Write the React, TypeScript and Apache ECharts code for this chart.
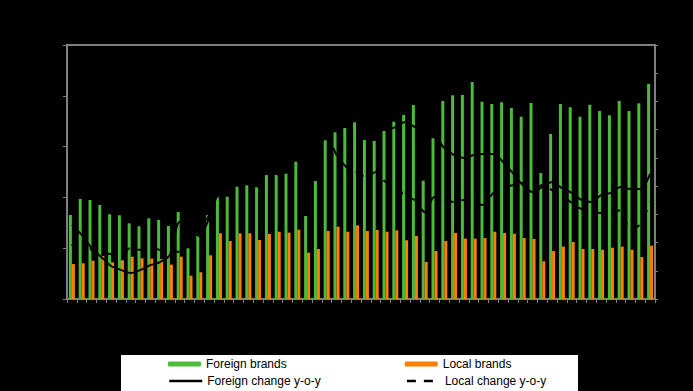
import React, { useEffect, useRef } from "react";
import * as echarts from "echarts";

const categories = [
  "Jan-09","Feb-09","Mar-09","Apr-09","May-09","Jun-09","Jul-09","Aug-09","Sep-09","Oct-09","Nov-09","Dec-09",
  "Jan-10","Feb-10","Mar-10","Apr-10","May-10","Jun-10","Jul-10","Aug-10","Sep-10","Oct-10","Nov-10","Dec-10",
  "Jan-11","Feb-11","Mar-11","Apr-11","May-11","Jun-11","Jul-11","Aug-11","Sep-11","Oct-11","Nov-11","Dec-11",
  "Jan-12","Feb-12","Mar-12","Apr-12","May-12","Jun-12","Jul-12","Aug-12","Sep-12","Oct-12","Nov-12","Dec-12",
  "Jan-13","Feb-13","Mar-13","Apr-13","May-13","Jun-13","Jul-13","Aug-13","Sep-13","Oct-13","Nov-13","Dec-13",
];

const foreignBrands = [
  82.7, 98.4, 97.4, 92.5, 83.4, 82.4, 74.5, 71.6, 79.4, 77.8,
  71.9, 85.6, 49.9, 65.0, 82.7, 100.1, 100.7, 110.5, 111.9, 109.9,
  122.0, 122.0, 123.3, 135.1, 81.7, 116.1, 156.2, 164.1, 168.3, 173.9,
  156.5, 155.5, 167.3, 174.5, 181.1, 190.9, 116.4, 158.2, 194.9, 200.5,
  200.8, 213.6, 194.2, 191.9, 193.6, 188.0, 179.4, 192.9, 124.0, 162.4,
  191.9, 188.7, 179.4, 191.2, 185.0, 180.8, 194.9, 185.0, 192.6, 211.6,
];

const localBrands = [
  34.4, 35.1, 37.7, 42.3, 36.1, 38.1, 41.6, 40.1, 39.7, 39.4,
  33.8, 41.6, 22.9, 26.3, 43.0, 64.7, 57.1, 64.7, 64.7, 58.1,
  64.0, 66.2, 65.3, 68.2, 45.6, 49.2, 66.9, 71.2, 66.2, 72.5,
  66.9, 67.9, 66.2, 67.6, 57.8, 62.0, 36.4, 47.2, 57.1, 65.0,
  59.4, 59.4, 60.0, 66.2, 65.0, 64.3, 60.0, 59.1, 37.1, 47.2,
  51.5, 56.1, 49.2, 49.2, 48.5, 50.5, 51.5, 48.5, 41.3, 52.5,
];

const foreignChange = [
  -13.8, -17.3, -21.9, -25.1, -28.3, -29.7, -30.8, -29.7, -28.0, -26.9,
  -24.4, -12.7, -14.8, -17.7, -11.3, -2.1, 0.0, 2.2, 3.6, 5.0,
  7.1, 9.3, 11.0, 12.8, 12.8, 14.2, 18.1, 21.7, 23.4, 24.1,
  22.0, 20.6, 19.9, 20.9, 22.7, 20.9, 19.2, 17.8, 13.5, 11.0,
  10.0, 11.0, 11.4, 11.4, 8.5, 4.6, 0.4, -2.1, -0.3, 1.5,
  -0.7, -2.4, -4.9, -5.6, -3.2, -2.4, -0.3, -1.0, -1.0, 4.3,
];

const localChange = [
  -21.2, -16.6, -22.6, -23.3, -24.1, -24.1, -21.9, -22.6, -21.9, -22.6,
  -23.3, -23.3, -19.1, -16.6, -10.2, -2.1, -1.4, 1.5, 2.9, 3.9,
  6.4, 7.5, 9.3, 11.0, 12.8, 14.6, 18.1, 11.0, 6.8, 5.0,
  3.2, 5.0, 1.5, 1.1, -3.9, -4.9, -9.2, -3.9, -4.9, -5.6,
  -4.9, -6.0, -6.7, -2.4, -0.7, 0.4, 1.1, -1.4, 0.4, -1.4,
  -3.2, -6.0, -8.1, -9.2, -9.5, -9.5, -8.5, -15.6, -13.4, -5.6,
];

const seriesNames = ["Foreign brands", "Local brands", "Foreign change y-o-y", "Local change y-o-y"];

const AXIS_GRAY = "#7f7f7f";
const GREEN = "#4cbb3c";
const ORANGE = "#ff8000";

export default function App() {
  const ref = useRef<HTMLDivElement>(null);

  useEffect(() => {
    if (!ref.current) return;
    const chart = echarts.init(ref.current, null, { renderer: "svg" });
    const textStyle = { color: "#000", fontSize: 12, fontFamily: "Liberation Sans, Arial, sans-serif" };
    chart.setOption({
      animation: false,
      backgroundColor: "#000",
      grid: {
        left: 67,
        right: 38,
        top: 45,
        bottom: 92,
        show: true,
        borderColor: AXIS_GRAY,
        borderWidth: 2,
      },
      graphic: [
        {
          type: "rect",
          shape: { x: 121, y: 355, width: 457, height: 40 },
          style: { fill: "#fff" },
          z: 1,
        },
      ],
      legend: [
        {
          data: [seriesNames[0], seriesNames[1]],
          left: 168,
          top: 358,
          padding: 0,
          itemWidth: 33,
          itemHeight: 5,
          itemGap: 118,
          textStyle,
          z: 10,
        },
        {
          data: [seriesNames[2], seriesNames[3]],
          left: 168,
          top: 375,
          padding: 0,
          itemWidth: 33,
          itemHeight: 10,
          itemGap: 85,
          textStyle,
          itemStyle: { color: "rgba(0,0,0,0)", borderColor: "rgba(0,0,0,0)", borderWidth: 0 },
          lineStyle: { width: 2.5 },
          z: 10,
        },
      ],
      xAxis: {
        type: "category",
        data: categories,
        boundaryGap: true,
        axisLine: { show: true, lineStyle: { color: AXIS_GRAY, width: 2 } },
        axisTick: { show: true, interval: 0, length: 4, lineStyle: { color: AXIS_GRAY, width: 1 } },
        axisLabel: { show: false },
        splitLine: { show: false },
      },
      yAxis: [
        {
          type: "value",
          min: 0,
          max: 250,
          interval: 50,
          axisLine: { show: true, lineStyle: { color: AXIS_GRAY, width: 2 } },
          axisTick: { show: true, length: 4, lineStyle: { color: AXIS_GRAY, width: 1 } },
          axisLabel: { show: false },
          splitLine: { show: false },
        },
        {
          type: "value",
          min: -40,
          max: 50,
          interval: 10,
          position: "right",
          axisLine: { show: true, lineStyle: { color: AXIS_GRAY, width: 2 } },
          axisTick: { show: true, length: 3, lineStyle: { color: AXIS_GRAY, width: 1 } },
          axisLabel: { show: false },
          splitLine: { show: false },
        },
      ],
      series: [
        {
          name: seriesNames[0],
          type: "bar",
          data: foreignBrands,
          yAxisIndex: 0,
          barWidth: 3,
          barGap: "0%",
          itemStyle: { color: GREEN },
        },
        {
          name: seriesNames[1],
          type: "bar",
          data: localBrands,
          yAxisIndex: 0,
          barWidth: 3,
          barGap: "0%",
          itemStyle: { color: ORANGE },
        },
        {
          name: seriesNames[2],
          type: "line",
          data: foreignChange,
          yAxisIndex: 1,
          symbol: "none",
          smooth: 0.3,
          lineStyle: { color: "#000", width: 2 },
          itemStyle: { color: "#000" },
        },
        {
          name: seriesNames[3],
          type: "line",
          data: localChange,
          yAxisIndex: 1,
          symbol: "none",
          smooth: 0.3,
          lineStyle: { color: "#000", width: 2, type: [9, 8] },
          itemStyle: { color: "#000" },
        },
      ],
    });
    return () => chart.dispose();
  }, []);

  return (
    <div
      ref={ref}
      style={{ position: "fixed", left: 0, top: 0, width: 693, height: 391, background: "#000" }}
    />
  );
}
